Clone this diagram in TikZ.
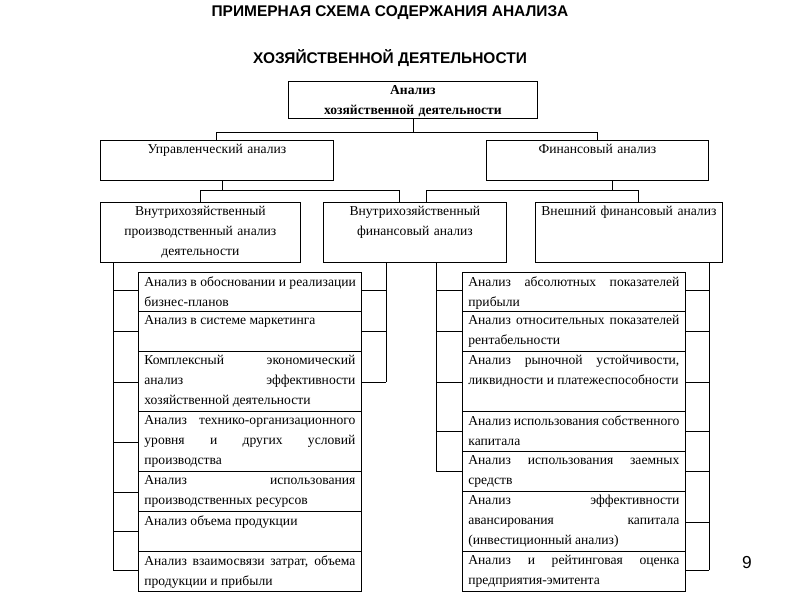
\documentclass[tikz,border=0pt]{standalone}
\usepackage{fontspec}
\setmainfont{Liberation Serif}
\newfontfamily\titlefont{Liberation Sans}
\begin{document}
\begin{tikzpicture}[x=0.75pt,y=-0.75pt,line width=0.6pt,
  title/.style={font=\titlefont\bfseries\fontsize{11.6}{13}\selectfont, inner sep=0},
  frame/.style={draw, anchor=north west, inner sep=0, fill=white},
  txt/.style={inner sep=0, anchor=north, font=\fontsize{10.2}{15}\selectfont}]
\useasboundingbox (0,0) rectangle (800,600);
\newcommand\bx[7]{%
  \node[frame, minimum width=\dimexpr #4pt*3/4\relax, minimum height=\dimexpr #5pt*3/4\relax] (#1) at (#2,#3) {};
  \node[txt, text width=\dimexpr (#4pt-12pt)*3/4\relax, align=#6] (#1t) at ([yshift=-3pt]#1.north) {#7};}
\node[title] (t1) at (390,13) {ПРИМЕРНАЯ СХЕМА СОДЕРЖАНИЯ АНАЛИЗА};
\node[title] (t2) at (390,58) {ХОЗЯЙСТВЕННОЙ ДЕЯТЕЛЬНОСТИ};
% connectors first
\draw (413,118) -- (413,132);
\draw (216,140) |- (597,132) -- (597,140);
\draw (222,180) -- (222,190);
\draw (200,202) |- (399,190) -- (399,202);
\draw (612,180) -- (612,190);
\draw (426,202) |- (638,190) -- (638,202);
% buses
\draw (113,262) -- (113,570);
\foreach \y in {290,331,382,442,492,531,570} \draw (113,\y) -- (138,\y);
\draw (386,262) -- (386,382);
\foreach \y in {290,331,382} \draw (386,\y) -- (361,\y);
\draw (436,262) -- (436,471);
\foreach \y in {290,331,382,431,471} \draw (436,\y) -- (462,\y);
\draw (709,262) -- (709,570);
\foreach \y in {290,331,382,431,471,522,570} \draw (709,\y) -- (685,\y);
% boxes
\bx{top}{288}{81}{249}{37}{center}{\bfseries Анализ\\хозяйственной деятельности}
\bx{upr}{100}{140}{233}{40}{center}{Управленческий анализ}
\bx{fin}{486}{140}{222}{40}{center}{Финансовый анализ}
\bx{vp}{100}{202}{200}{60}{center}{Внутрихозяйственный\\производственный анализ\\деятельности}
\bx{vf}{323}{202}{183}{60}{center}{Внутрихозяйственный\\финансовый анализ}
\bx{ext}{535}{202}{187}{60}{center}{\mbox{Внешний финансовый анализ}}
\bx{l1}{138}{272}{223}{39}{justify}{\mbox{Анализ в обосновании и реализации} бизнес-планов}
\bx{l2}{138}{311}{223}{40}{justify}{Анализ в системе маркетинга}
\bx{l3}{138}{351}{223}{60}{justify}{Комплексный экономический анализ эффективности хозяйственной деятельности}
\bx{l4}{138}{411}{223}{60}{justify}{Анализ технико-организационного уровня и других условий производства}
\bx{l5}{138}{471}{223}{40}{justify}{Анализ использования производственных ресурсов}
\bx{l6}{138}{511}{223}{40}{justify}{Анализ объема продукции}
\bx{l7}{138}{551}{223}{40}{justify}{Анализ взаимосвязи затрат, объема продукции и прибыли}
\bx{r1}{462}{272}{223}{39}{justify}{Анализ абсолютных показателей прибыли}
\bx{r2}{462}{311}{223}{40}{justify}{Анализ относительных показателей рентабельности}
\bx{r3}{462}{351}{223}{60}{justify}{Анализ рыночной устойчивости, ликвидности и платежеспособности}
\bx{r4}{462}{411}{223}{40}{justify}{Анализ использования собственного капитала}
\bx{r5}{462}{451}{223}{40}{justify}{Анализ использования заемных средств}
\bx{r6}{462}{491}{223}{60}{justify}{Анализ эффективности авансирования капитала (инвестиционный анализ)}
\bx{r7}{462}{551}{223}{40}{justify}{Анализ и рейтинговая оценка предприятия-эмитента}
\node[font=\titlefont\fontsize{13}{15}\selectfont, inner sep=0] (pg) at (747,563) {9};
\end{tikzpicture}
\end{document}
